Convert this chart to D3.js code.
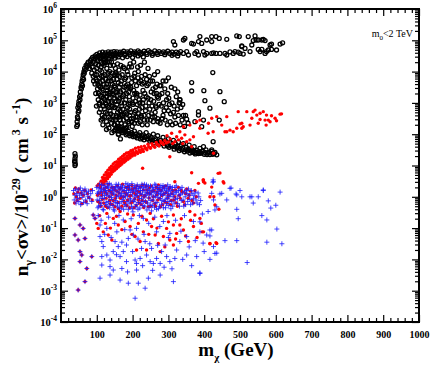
<!DOCTYPE html>
<html><head><meta charset="utf-8">
<script src="https://cdn.jsdelivr.net/npm/d3@7"></script>
<style>
html,body{margin:0;padding:0;background:#fff;}
svg{display:block;}
</style></head>
<body>
<div id="chart"></div>
<script>
// ---- data: [m_chi (GeV), log10( n_gamma <sigma v> / 1e-29 cm^3 s^-1 )] ----
const xTickLabels = [100,200,300,400,500,600,700,800,900,1000];
const yTickExponents = [-4,-3,-2,-1,0,1,2,3,4,5,6];
const annotation = "m0<2 TeV";

const blackPoints = [
[44,2.25],[46,2.3],[45,2.4],[46,2.55],[47,2.5],[48,2.7],[50,2.75],[47,2.85],[49,2.95],[50,3.05],[51,2.9],[52,3.2],[53,3.1],[54,3.35],[55,3.25],[56,3.5],[57,3.45],[58,3.6],[59,3.7],[60,3.55],[61,3.8],[62,3.9],[63,3.75],[65,3.95],[64,4.0],[66,4.1],[68,4.05],[70,4.2],[72,4.15],[74,4.25],[76,4.3],[78,4.2],[80,4.1],
[39,1.0],[40,1.05],[38,1.12],[39,1.15],[39,1.22],[40,1.3],[39,1.38],
[82,4.35],[85,4.4],[88,4.45],[84,4.25],[87,4.15],[90,4.3],[92,4.4],[86,3.95],[90,3.85],[93,4.05],[95,3.9],[91,3.7],[95,3.6],[98,3.75],[100,4.1],[97,4.25],
[95,4.5],[100,4.55],[104,4.48],[108,4.6],[112,4.52],[116,4.62],[120,4.55],[124,4.6],[128,4.5],[132,4.63],[136,4.57],[140,4.62],[144,4.55],[148,4.64],[152,4.58],[156,4.63],[160,4.56],[165,4.62],[170,4.6],[175,4.65],[180,4.57],[185,4.63],[190,4.6],[195,4.66],[200,4.58],[205,4.63],[210,4.6],[215,4.66],[220,4.62],[226,4.58],[232,4.65],[238,4.6],[244,4.67],[250,4.62],[256,4.58],[262,4.66],[268,4.6],[274,4.64],[280,4.58],[286,4.63],[292,4.6],[298,4.65],[304,4.58],[310,4.62],[316,4.56],[322,4.62],[328,4.58],[334,4.64],
[102,4.4],[110,4.42],[118,4.38],[126,4.45],[134,4.4],[142,4.47],[150,4.43],[160,4.47],[172,4.44],[185,4.48],[200,4.45],[215,4.5],[230,4.47],[112,4.3],[122,4.28],[135,4.32],
[98,4.45],[106,4.52],[114,4.45],[120,4.48],[130,4.55],[138,4.5],[146,4.53],[154,4.5],[166,4.55],[178,4.52],[192,4.54],[207,4.55],[222,4.55],[240,4.55],[255,4.52],[270,4.55],[290,4.54],[310,4.52],[326,4.5],
[342,4.58],[351,4.64],[356,4.53],[374,4.58],[379,4.64],[384,4.53],[398,4.64],[402,4.53],[407,4.58],[421,4.58],[426,4.6],[433,4.58],[444,4.58],[458,4.58],[463,4.53],[472,4.63],[481,4.58],[486,4.64],[495,4.62],[500,4.58],[505,4.8],[509,4.56],[514,4.74],[528,4.64],[551,4.71],[556,4.64],[561,4.71],[570,4.58],[574,4.64],[579,4.69],[588,4.71],[602,4.69],
[314,4.96],[318,4.85],[342,5.01],[346,5.06],[365,4.9],[370,4.88],[384,4.96],[388,5.12],[393,4.9],[407,5.01],[421,5.12],[421,4.96],[433,5.12],[442,5.06],[463,5.03],[491,5.14],[498,5.12],[505,4.82],[523,5.12],[533,4.85],[537,4.99],[542,5.14],[545,5.01],[551,5.01],[561,5.01],[565,5.03],[570,4.99],[584,4.85],[588,4.88],[612,4.88],[619,4.92],
[100,3.9],[103,3.6],[105,3.3],[107,3.8],[108,3.0],[110,3.5],[111,2.8],[113,3.2],[114,4.0],[115,2.6],[117,3.7],[118,3.4],[119,2.9],[120,4.2],
[122,3.1],[123,3.9],[124,2.7],[126,3.5],[127,2.4],[128,4.1],[129,3.3],[130,2.9],[132,3.7],[133,2.55],[135,3.15],[136,4.0],[137,2.75],[138,3.45],[139,3.85],
[141,2.35],[142,3.0],[143,3.6],[145,2.6],[146,4.2],[147,3.25],[148,2.85],[150,3.9],[151,3.5],[152,2.45],[154,3.05],[155,2.2],[156,3.75],[158,2.7],[159,3.35],
[161,2.0],[162,4.05],[163,2.55],[164,3.15],[166,1.85],[167,3.6],[168,2.35],[170,2.9],[171,3.9],[173,2.15],[174,3.4],[176,2.65],[178,3.75],[179,2.3],
[181,3.1],[183,2.5],[185,4.0],[186,2.85],[188,3.5],[190,2.35],[191,3.2],[193,4.25],[195,2.7],[197,3.65],[199,3.0],
[202,2.5],[204,3.85],[206,3.3],[208,2.75],[211,3.55],[213,2.55],[216,4.0],[218,3.1],[221,2.4],[223,3.7],[226,2.85],[229,3.4],
[232,2.6],[235,3.9],[238,3.2],[241,2.45],[244,3.6],[248,2.8],[252,3.35],[255,2.55],[259,3.05],[263,2.7],[267,3.3],[270,2.5],
[275,3.25],[280,2.9],[285,2.6],[290,3.45],[295,3.1],[300,2.75],[305,2.4],[310,3.0],[318,2.55],[325,2.8],[332,3.1],[338,2.45],[345,2.25],[300,3.8],[285,3.7],[270,4.0],[318,3.45],[330,3.0],
[102,3.45],[104,4.2],[106,2.95],[109,3.65],[112,4.15],[114,3.05],[116,2.5],[118,3.85],[121,2.8],[123,3.3],[125,4.3],[126,2.95],[128,3.6],[131,2.3],[131,3.95],[134,2.85],[136,3.3],[138,2.5],[140,3.7],[141,4.3],[144,2.9],[146,3.4],[149,2.3],[150,3.15],[153,3.95],[154,2.6],[157,3.2],[158,4.25],[160,2.8],[163,3.5],[165,2.45],[167,4.2],[169,3.0],[172,2.6],[175,3.25],[177,4.1],[180,2.7],[182,3.55],[184,2.2],[187,3.9],[189,2.95],[192,2.6],[194,3.45],[197,4.15],[198,2.4],[201,3.15],[203,4.3],[205,2.7],[208,3.7],[210,2.45],[212,3.25],[215,3.8],[217,2.65],[220,3.0],[222,4.2],[225,2.55],[227,3.6],[230,3.1],[233,4.3],[236,2.75],[240,3.55],[243,4.1],[246,3.0],[250,3.7],[253,2.65],[257,3.45],[261,3.9],[265,2.9],[268,3.6],[272,3.15],[276,3.55],[282,3.3],[288,2.75],[293,3.7],[298,3.3],[303,2.95],[308,3.5],[314,2.7],[322,3.2],[328,2.6],[335,2.85],[342,2.6],
[97,3.3],[99,2.9],[101,3.7],[103,4.35],[104,3.1],[106,3.55],[107,2.7],[109,4.05],[110,3.25],[112,2.45],[113,3.85],[115,3.45],[116,4.25],[117,2.3],[119,3.15],[120,3.6],[121,2.55],[122,4.4],[124,3.0],[125,3.75],[127,2.15],[128,3.2],[129,2.65],[130,4.3],[131,3.5],[133,3.05],[134,2.2],[135,3.8],[137,3.35],[138,4.2],[139,2.65],[140,3.05],[142,2.05],[143,3.95],[144,3.3],[145,2.45],[147,3.75],[148,2.1],[149,3.55],[151,2.85],[152,4.1],[153,3.35],[155,2.55],[156,2.95],[157,3.9],[158,2.35],[160,3.65],[161,3.05],[162,2.25],[164,3.85],[165,2.75],[166,3.35],[168,2.6],[169,3.7],[170,2.1],[171,3.2],[173,2.8],[174,4.15],[175,2.45],[177,3.0],[178,3.5],[180,2.2],[181,3.8],[183,3.3],[184,2.65],[186,3.6],[187,2.4],[189,3.35],[190,4.15],[192,2.8],[193,3.0],[195,3.5],[196,2.5],[198,3.8],[199,2.25],[201,2.95],[203,3.4],[205,2.35],[206,3.95],[208,3.05],[209,2.55],[211,3.3],[213,2.95],[214,4.15],[216,2.35],[218,3.65],[219,2.8],[221,3.25],[224,2.6],[225,3.85],[227,2.3],[228,3.0],[231,3.65],[233,2.45],[234,3.3],[237,2.9],[239,3.75],[241,2.3],[243,3.15],[245,2.6],[247,3.85],[249,2.45],[251,3.1],[254,2.9],[256,3.7],[258,2.4],[260,3.3],[262,2.55],[264,3.5],[266,2.85],[269,3.2],[271,2.4],[274,2.95],[277,2.35],[279,3.55],[283,2.5],[286,3.0],[291,2.45],[294,2.85],[297,2.3],[301,3.15],[306,2.65],[311,2.3],[316,2.9],[320,2.35],[326,3.35],[333,2.3],[340,2.95],[348,2.6],[355,2.35],
[150,2.3],[152,2.15],[158,2.25],[162,2.1],[160,2.0],[168,2.2],[172,2.05],[170,2.12],[178,2.15],[182,1.98],[180,2.08],[188,2.1],[192,1.95],[190,2.02],[198,2.05],[202,1.92],[200,1.99],[205,2.1],[210,2.0],[213,1.88],[215,1.95],[220,2.05],[222,1.85],[225,1.95],[230,1.98],[232,1.82],[235,1.9],[238,2.05],[242,1.85],[245,1.95],[248,1.78],[252,1.9],[255,1.8],[258,2.0],[260,1.72],[265,1.85],[268,1.75],[270,1.95],[272,1.68],[278,1.8],[282,1.7],[285,1.9],[288,1.62],[292,1.78],[296,1.66],[300,1.85],[302,1.58],[306,1.72],[310,1.62],[314,1.8],[316,1.52],[320,1.68],[324,1.56],[328,1.75],[330,1.48],[335,1.62],[338,1.5],[342,1.7],[345,1.44],[350,1.58],[353,1.46],[358,1.65],[360,1.4],[365,1.52],[368,1.42],[372,1.6],[375,1.37],[380,1.48],[384,1.38],[388,1.55],[395,1.45],[400,1.36],[405,1.5],[410,1.4],[416,1.35],[420,1.45],[428,1.38],[435,1.34],
[155,2.22],[165,2.15],[175,2.1],[185,2.02],[195,2.0],[207,1.93],[217,1.98],[227,1.88],[240,1.92],[250,1.85],[262,1.8],[275,1.75],[290,1.7],[298,1.62],[308,1.66],[318,1.6],[326,1.62],[332,1.55],[340,1.56],[348,1.5],[356,1.52],[363,1.46],[370,1.45],[378,1.42],[386,1.44],[392,1.4],[402,1.42],[408,1.35],[414,1.42],[424,1.36],[430,1.42],
[351,2.48],[374,2.4],[398,2.45],[442,2.45],[393,2.24],[425,1.76],[421,1.5],[398,1.6],[388,1.39],[374,1.41],[360,1.5],
[365,3.65],[365,3.38],[399,3.39],[444,3.36],[402,3.07],[456,3.04],[416,2.83],[384,2.72],[384,2.61],[424,3.97],[332,3.1],[332,3.0]
];

const redPoints = [
[36,0.1],[38,-0.2],[40,0.28],[43,0.0],[45,-0.12],[47,0.15],[50,0.25],[53,-0.05],[56,0.12],[58,-0.22],[62,0.05],[66,0.2],[70,-0.15],[74,0.1],[78,-0.02],[84,0.22],[87,-0.1],
[39,-0.69],[53,-0.9],[62,-1.01],[39,-1.22],[48,-1.38],[67,-1.33],[53,-1.75],[58,-1.86],[53,-2.07],[72,-2.29],[67,-2.71],[48,-2.98],[86,-1.91],[90,-0.58],[95,-0.69],
[101,0.35],[103,-0.15],[106,0.1],[110,0.3],[111,-0.3],[114,0.05],[118,0.4],[119,-0.2],[122,0.15],[126,-0.05],[127,0.3],[130,-0.35],[134,0.2],[135,0.0],[138,-0.22],[142,0.3],[143,0.08],[146,-0.12],[150,0.22],[151,-0.32],[154,0.05],[158,0.35],[159,-0.18],[162,0.12],[166,-0.05],[167,0.28],[170,-0.3],[174,0.18],[175,0.0],[178,-0.2],[182,0.3],[183,0.08],[186,-0.1],[190,0.24],[191,-0.35],[194,0.04],[198,0.36],[199,-0.16],[202,0.14],[206,-0.06],[207,0.28],[210,-0.28],[214,0.18],[215,0.0],[218,-0.2],[222,0.32],[223,0.06],[226,-0.12],[230,0.22],[231,-0.34],[234,0.04],[238,0.34],[239,-0.18],[242,0.12],[246,-0.04],[247,0.28],[250,-0.3],[254,0.18],[258,0.0],[262,-0.22],[266,0.3],[267,0.06],[270,-0.1],[274,0.24],[278,-0.32],[282,0.04],[286,0.3],[290,-0.15],[294,0.14],[298,-0.04],[302,0.26],[306,-0.25],[310,0.1],[315,-0.1],[320,0.22],[325,-0.3],[330,0.05],[336,0.2],[342,-0.15],[348,0.1],[355,-0.05],[362,0.18],[370,-0.2],[378,0.0],
[102,0.05],[105,0.4],[108,-0.2],[112,0.15],[116,-0.08],[120,0.25],[124,-0.3],[128,0.1],[132,0.4],[136,-0.12],[140,0.15],[144,-0.25],[148,0.3],[152,-0.05],[156,0.18],[160,-0.38],[164,0.25],[168,0.0],[172,0.4],[176,-0.15],[180,0.12],[184,-0.28],[188,0.32],[192,0.02],[196,-0.2],[200,0.25],[204,-0.35],[208,0.08],[212,0.35],[216,-0.1],[220,0.15],[224,-0.25],[228,0.38],[232,0.0],[236,-0.15],[240,0.22],[244,-0.32],[248,0.1],[252,0.35],[256,-0.12],[260,0.2],[264,-0.3],[268,0.15],[272,0.38],[276,-0.05],[280,0.2],[284,-0.25],[288,0.1],[292,0.35],[296,-0.2],[300,0.05],[304,0.3],[308,-0.12],[312,0.2],[318,0.0],[322,-0.2],[328,0.3],[333,-0.05],[339,0.15],[345,-0.25],[351,0.25],[358,0.05],[366,-0.12],[374,0.2],
[100,-0.85],[104,-1.01],[118,-1.12],[132,-1.22],[146,-0.69],[160,-0.9],[179,-0.79],[193,-0.95],[207,-1.27],[221,-1.43],[230,-1.12],[239,-0.74],[253,-0.95],[263,-1.22],[272,-1.49],[286,-1.27],[295,-1.01],[304,-1.38],[314,-1.54],[323,-1.17],[332,-0.9],[342,-1.06],[356,-1.43],[370,-0.95],[374,-0.58],[398,-1.12],[416,-1.49],[435,-1.49],[277,-1.75],[239,-1.7],[211,-1.7],[142,-1.38],[249,-0.53],[202,-0.58],[314,-0.58],[360,-0.47],[388,-0.69],[165,-0.47],[128,-0.53],[216,-0.85],[314,-0.9],
[108,-0.6],[124,-0.85],[138,-1.0],[155,-0.62],[170,-1.05],[186,-0.55],[198,-1.2],[226,-0.62],[245,-1.2],[258,-0.7],[268,-1.0],[281,-0.62],[290,-1.6],[300,-0.8],[320,-1.35],[336,-0.7],[348,-1.25],[362,-0.75],[380,-1.3],[392,-0.85],
[398,0.54],[384,0.43],[318,0.48],
[110,0.35],[115,0.45],[118,0.55],[120,0.4],[123,0.6],[125,0.5],[128,0.7],[130,0.58],[133,0.75],[135,0.65],[138,0.85],[140,0.72],[143,0.9],[145,0.8],[148,0.95],[150,0.85],[153,1.0],[155,0.9],[158,1.05],[160,0.95],[163,1.12],[165,1.0],[168,1.15],[170,1.05],[173,1.2],[176,1.1],[178,1.25],[181,1.15],[184,1.3],[187,1.2],[190,1.35],[193,1.25],[196,1.38],[199,1.3],[202,1.42],[206,1.33],[210,1.45],[214,1.38],[218,1.5],[222,1.42],[226,1.52],[230,1.45],[235,1.55],[240,1.5],[245,1.6],[250,1.55],[256,1.63],[262,1.58],[268,1.68],[274,1.62],[280,1.72],[286,1.67],
[112,0.5],[116,0.62],[119,0.45],[121,0.7],[124,0.52],[126,0.78],[129,0.62],[131,0.85],[134,0.7],[136,0.92],[139,0.76],[141,0.98],[144,0.82],[146,1.05],[149,0.88],[151,1.1],[154,0.92],[156,1.12],[159,0.98],[161,1.2],[164,1.05],[167,1.25],[169,1.1],[172,1.3],[175,1.15],[177,1.35],[180,1.2],[183,1.4],[186,1.25],[189,1.42],[192,1.3],[195,1.47],[198,1.35],[201,1.5],[205,1.38],[208,1.55],[212,1.42],[216,1.58],[220,1.45],[224,1.6],[228,1.5],[233,1.62],[238,1.55],[243,1.68],[248,1.58],[254,1.7],[260,1.62],[266,1.74],[272,1.66],[278,1.78],[284,1.72],[290,1.8],[294,1.72],
[309,2.03],[323,1.92],[328,1.82],[337,1.87],[346,1.98],[351,1.76],[360,1.82],[318,1.76],[370,1.92],[332,2.08],[342,2.24],[360,2.29],[379,2.4],[388,2.19],[304,1.28],[228,0.91],[300,1.75],[305,1.85],[312,1.7],[296,1.95],[340,1.7],[365,1.6],
[411,2.03],[425,2.08],[435,2.56],[449,2.29],[458,2.08],[463,2.56],[472,2.13],[481,2.08],[491,2.19],[495,2.72],[505,2.35],[509,2.24],[519,2.72],[533,2.51],[537,2.72],[547,2.61],[551,2.35],[556,2.67],[565,2.72],[570,2.45],[574,2.61],[584,2.4],[598,2.51],[616,2.65],
[542,2.77],[588,2.59],[612,2.64],[556,2.47],[579,2.45],[602,2.43],[500,2.33],[528,2.29],[573,2.29],[505,2.19],[463,2.08],[421,2.51],[412,2.35],[388,2.45],[426,1.39],
[365,0.77],[439,0.75],[398,0.48],[453,0.48],[444,0.76],[455,0.44],[397,0.54],[402,0.44],[421,0.31],[416,0.0],[427,0.0],[430,-0.26],[441,-0.4],[394,-1.12],[433,-1.47],[416,-1.5]
];

const bluePoints = [
[35,0.2],[37,-0.1],[39,0.05],[41,0.25],[42,-0.2],[44,0.1],[46,-0.05],[48,0.22],[50,-0.15],[52,0.05],[54,0.28],[55,-0.25],[57,0.12],[59,-0.02],[61,0.2],[63,-0.18],[65,0.08],[67,0.25],[69,-0.1],[71,0.15],[73,-0.22],[75,0.02],[77,0.18],[80,-0.05],[83,0.1],[86,-0.15],[88,0.2],
[39,-0.69],[53,-0.9],[62,-1.01],[39,-1.22],[48,-1.38],[67,-1.33],[53,-1.75],[58,-1.86],[53,-2.07],[72,-2.29],[67,-2.71],[48,-2.98],[86,-1.91],[90,-0.58],[95,-0.69],
[100,0.3],[101,-0.1],[104,0.15],[105,-0.3],[108,0.4],[109,0.0],[112,-0.2],[113,0.25],[116,0.1],[117,-0.4],[120,0.35],[121,-0.05],[124,0.2],[125,-0.25],[128,0.05],[129,0.42],[132,-0.15],[133,0.28],[136,-0.35],[137,0.12],[140,0.38],[141,-0.02],[144,0.22],[145,-0.28],[148,0.08],[149,-0.45],[152,0.32],[153,-0.12],[156,0.18],[157,-0.3],[160,0.02],[161,0.4],[164,-0.2],[165,0.26],[168,-0.38],[169,0.1],[172,0.35],[173,-0.08],[176,0.2],[177,-0.25],[180,0.0],[181,0.42],[184,-0.15],[185,0.3],[188,-0.4],[189,0.14],[192,0.36],[193,-0.05],[196,0.22],[197,-0.3],[200,0.06],[201,-0.48],[204,0.3],[205,-0.1],[208,0.16],[209,-0.32],[212,0.04],[213,0.38],[216,-0.18],[217,0.26],[220,-0.36],[221,0.1],[224,0.33],[225,-0.06],[228,0.2],[229,-0.28],[232,0.0],[233,0.4],[236,-0.14],[237,0.28],[240,-0.42],[241,0.12],[244,0.34],[245,-0.04],[248,0.2],[249,-0.26],[252,0.06],[253,-0.45],[256,0.3],[257,-0.1],[260,0.16],[261,-0.33],[264,0.02],[265,0.37],[268,-0.18],[269,0.24],[272,-0.38],[273,0.1],[276,0.3],[277,-0.06],[280,0.18],[281,-0.24],[284,0.04],[285,0.36],[288,-0.15],[289,0.25],[292,-0.35],[293,0.1],[296,0.28],[297,-0.05],[300,0.16],[301,-0.28],[304,0.02],[305,0.33],[308,-0.14],[310,0.2],[312,-0.3],[315,0.08],[318,0.3],[320,-0.08],[323,0.15],[326,-0.22],[330,0.05],[333,0.25],[336,-0.12],[340,0.12],[343,-0.3],[347,0.0],[350,0.2],[354,-0.15],[358,0.05],[362,-0.25],[366,0.1],[370,-0.05],[375,0.15],[380,-0.2],[385,0.0],[390,-0.12],
[102,0.1],[103,-0.35],[106,0.28],[107,-0.12],[110,0.18],[111,-0.28],[114,0.38],[115,-0.05],[118,0.22],[119,-0.42],[122,0.05],[123,0.3],[126,-0.18],[127,0.15],[130,0.32],[131,-0.3],[134,0.02],[135,0.42],[138,-0.22],[139,0.2],[142,-0.08],[143,0.3],[146,0.12],[147,-0.4],[150,0.25],[151,-0.18],[154,0.4],[155,0.0],[158,-0.22],[159,0.3],[162,0.15],[163,-0.35],[166,0.05],[167,0.32],[170,-0.15],[171,0.22],[174,0.0],[175,-0.4],[178,0.3],[179,0.1],[182,-0.3],[183,0.2],[186,0.05],[187,0.4],[190,-0.2],[191,0.28],[194,-0.1],[195,0.15],[198,0.42],[199,-0.38],[202,0.2],[203,-0.15],[206,0.35],[207,0.0],[210,-0.25],[211,0.25],[214,0.12],[215,-0.4],[218,0.32],[219,-0.05],[222,0.2],[223,-0.2],[226,0.4],[227,0.08],[230,-0.15],[231,0.3],[234,-0.3],[235,0.15],[238,0.05],[239,0.38],[242,-0.2],[243,0.22],[246,-0.35],[247,0.1],[250,0.35],[251,-0.12],[254,0.15],[255,-0.28],[258,0.25],[259,0.0],[262,0.4],[263,-0.2],[266,0.12],[267,-0.4],[270,0.3],[271,-0.02],[274,0.18],[275,-0.3],[278,0.08],[279,0.35],[282,-0.12],[283,0.25],[286,-0.35],[287,0.12],[290,0.32],[291,-0.08],[294,0.2],[295,-0.22],[298,0.38],[299,0.02],[302,-0.15],[303,0.25],[306,0.1],[307,-0.38],[311,0.3],[313,0.0],[316,-0.2],[319,0.15],[322,0.35],[325,-0.05],[328,0.2],[331,-0.3],[334,0.08],[338,0.3],[341,-0.1],[345,0.18],[348,-0.25],[352,0.1],[356,0.25],[360,-0.08],[364,0.2],[368,-0.2],[372,0.05],[377,-0.1],[383,0.12],[387,-0.25],
[109,-1.27],[114,-1.43],[118,-1.59],[114,-1.91],[128,-1.86],[137,-2.02],[146,-1.75],[151,-1.43],[160,-1.59],[165,-1.91],[174,-1.75],[183,-1.54],[188,-1.33],[193,-1.06],[202,-1.22],[207,-2.02],[211,-2.13],[221,-1.97],[225,-1.65],[235,-1.43],[239,-1.86],[249,-2.07],[258,-2.13],[267,-1.97],[277,-2.13],[281,-1.75],[291,-1.54],[295,-1.91],[304,-2.07],[318,-1.97],[323,-1.7],[332,-1.43],[351,-1.86],[379,-1.91],[388,-2.45],[277,-2.5],[244,-2.6],[216,-2.76],[188,-2.76],[165,-2.66],[137,-2.5],[114,-2.18],[109,-2.6],[170,-2.29],[235,-2.92],[207,-3.24],[314,-2.71],[211,-2.34],[137,-2.23],[146,-2.34],[183,-2.07],[253,-1.65],
[109,-0.9],[128,-1.01],[156,-1.12],[211,-1.01],[267,-1.12],[304,-1.17],[351,-1.27],[388,-1.12],[230,-0.69],[174,-0.74],[286,-0.79],[370,-0.79],
[104,-0.6],[112,-0.75],[122,-1.2],[133,-0.65],[140,-1.3],[150,-0.85],[155,-1.85],[162,-0.6],[170,-1.45],[178,-1.05],[186,-2.4],[196,-0.7],[200,-1.75],[215,-1.35],[219,-0.6],[228,-2.2],[232,-1.2],[245,-0.85],[248,-1.5],[256,-2.35],[262,-0.65],[270,-1.55],[276,-0.95],[288,-2.25],[296,-0.6],[300,-1.3],[310,-2.3],[320,-0.75],[335,-1.1],[340,-2.0],[345,-0.6],[358,-1.6],[365,-2.2],[375,-1.4],[395,-0.55],[400,-1.75],
[407,-1.22],[421,-1.06],[426,-1.59],[430,-1.81],[435,-0.32],[426,-0.1],[421,0.11],[426,0.48],[411,-0.47],
[612,0.15],[565,0.2],[551,0.0],[575,-0.74],[603,-1.03],[617,-1.5],[520,-2.1],[416,-2.0],[435,-1.8],[495,-0.7],[491,-1.4],[458,-1.4],[575,-1.45],[561,-0.6],[586,-0.36],[579,-0.13],[537,-0.2],[505,0.0],[528,0.0],[500,0.2],[475,0.28],[489,0.09],[444,0.09],[463,-0.1],[491,-0.4],[430,-0.42],[416,-1.06],[416,-1.25],[397,-1.48],[388,-2.43],[388,-0.8],[424,0.47],[600,-0.27],
[425,0.54],[472,0.27],[491,0.06],[533,0.0],[565,0.22],[449,0.11]
];

// ---- layout ----
const W = 436, H = 366;
const L = 61, R = 419, T = 9, B = 322;
const serif = "'Liberation Serif','Times New Roman',serif";

const x = d3.scaleLinear().domain([0, 1000]).range([L, R]);
const y = d3.scaleLog().domain([1e-4, 1e6]).range([B, T]);

const svg = d3.select("#chart").append("svg").attr("width", W).attr("height", H);
svg.append("defs").append("clipPath").attr("id", "clip")
  .append("rect").attr("x", L).attr("y", T).attr("width", R - L).attr("height", B - T);

const plot = svg.append("g").attr("clip-path", "url(#clip)");
const val = d => Math.pow(10, d[1]);

plot.append("g").selectAll("circle").data(blackPoints).join("circle")
  .attr("cx", d => x(d[0])).attr("cy", d => y(val(d))).attr("r", 2.0)
  .attr("fill", "none").attr("stroke", "#000").attr("stroke-width", 1.3);

plot.append("g").selectAll("circle").data(redPoints).join("circle")
  .attr("cx", d => x(d[0])).attr("cy", d => y(val(d))).attr("r", 1.7)
  .attr("fill", "#ff0000");

plot.append("g").selectAll("path").data(bluePoints).join("path")
  .attr("d", d => `M${x(d[0]) - 2.5},${y(val(d))}h5M${x(d[0])},${y(val(d)) - 2.5}v5`)
  .attr("stroke", "#1a1aff").attr("stroke-width", 1).attr("fill", "none").attr("opacity", 0.8);

// ---- axes ----
const xMinor = d3.range(20, 1000, 20).filter(v => v % 100 !== 0);
const yMajor = yTickExponents.map(e => Math.pow(10, e));
const yMinor = [];
yTickExponents.slice(0, -1).forEach(e => { for (let k = 2; k <= 9; k++) yMinor.push(k * Math.pow(10, e)); });

function styleAxis(g) {
  g.select(".domain").remove();
  g.selectAll(".tick line").attr("stroke", "#000").attr("stroke-width", 1.2);
}

svg.append("g").attr("transform", `translate(0,${B})`)
  .call(d3.axisBottom(x).tickValues(xTickLabels).tickSize(-7).tickPadding(9).tickFormat(d3.format("d")))
  .call(styleAxis)
  .call(g => g.selectAll("text").attr("font-family", serif).attr("font-weight", "bold").attr("font-size", 10).attr("fill", "#000"));
svg.append("g").attr("transform", `translate(0,${B})`)
  .call(d3.axisBottom(x).tickValues(xMinor).tickSize(-4).tickFormat("")).call(styleAxis);
svg.append("g").attr("transform", `translate(0,${T})`)
  .call(d3.axisTop(x).tickValues(xTickLabels).tickSize(-7).tickFormat("")).call(styleAxis);
svg.append("g").attr("transform", `translate(0,${T})`)
  .call(d3.axisTop(x).tickValues(xMinor).tickSize(-4).tickFormat("")).call(styleAxis);

const yAx = svg.append("g").attr("transform", `translate(${L},0)`)
  .call(d3.axisLeft(y).tickValues(yMajor).tickSize(-7).tickPadding(4).tickFormat(""))
  .call(styleAxis);
yAx.selectAll(".tick").each(function(d, i) {
  const t = d3.select(this).append("text").attr("x", -4).attr("dy", "0.32em")
    .attr("text-anchor", "end").attr("font-family", serif).attr("font-weight", "bold")
    .attr("font-size", 10.5).attr("fill", "#000");
  t.append("tspan").text("10");
  t.append("tspan").attr("dy", -5).attr("font-size", 7.5).text(String(yTickExponents[i]));
});
svg.append("g").attr("transform", `translate(${L},0)`)
  .call(d3.axisLeft(y).tickValues(yMinor).tickSize(-4).tickFormat("")).call(styleAxis);
svg.append("g").attr("transform", `translate(${R},0)`)
  .call(d3.axisRight(y).tickValues(yMajor).tickSize(-7).tickFormat("")).call(styleAxis);
svg.append("g").attr("transform", `translate(${R},0)`)
  .call(d3.axisRight(y).tickValues(yMinor).tickSize(-4).tickFormat("")).call(styleAxis);

// frame
svg.append("rect").attr("x", L).attr("y", T).attr("width", R - L).attr("height", B - T)
  .attr("fill", "none").attr("stroke", "#000").attr("stroke-width", 2);

// x title
const xt = svg.append("text").attr("x", 236).attr("y", 356).attr("text-anchor", "middle")
  .attr("font-family", serif).attr("font-weight", "bold").attr("font-size", 19).attr("fill", "#000");
xt.append("tspan").text("m");
xt.append("tspan").attr("dy", 5).attr("font-size", 11).text("χ");
xt.append("tspan").attr("dy", -5).text(" (GeV)");

// y title
const yt = svg.append("text").attr("transform", "translate(28,187) rotate(-90)").attr("text-anchor", "middle")
  .attr("font-family", serif).attr("font-weight", "bold").attr("font-size", 19).attr("fill", "#000");
yt.append("tspan").text("n");
yt.append("tspan").attr("dy", 5).attr("font-size", 12).text("γ");
yt.append("tspan").attr("dy", -5).text("<σv>/10");
yt.append("tspan").attr("dy", -8).attr("font-size", 12).text("-29");
yt.append("tspan").attr("dy", 8).text(" ( cm");
yt.append("tspan").attr("dy", -8).attr("font-size", 12).text(" 3");
yt.append("tspan").attr("dy", 8).text("  s");
yt.append("tspan").attr("dy", -8).attr("font-size", 12).text(" -1");
yt.append("tspan").attr("dy", 8).text(")");

// annotation
const an = svg.append("text").attr("x", 413).attr("y", 37).attr("text-anchor", "end")
  .attr("font-family", serif).attr("font-size", 10).attr("fill", "#000");
an.append("tspan").text(annotation.slice(0, 1));
an.append("tspan").attr("dy", 3).attr("font-size", 7).text(annotation.slice(1, 2));
an.append("tspan").attr("dy", -3).text(annotation.slice(2));
</script>
</body></html>
